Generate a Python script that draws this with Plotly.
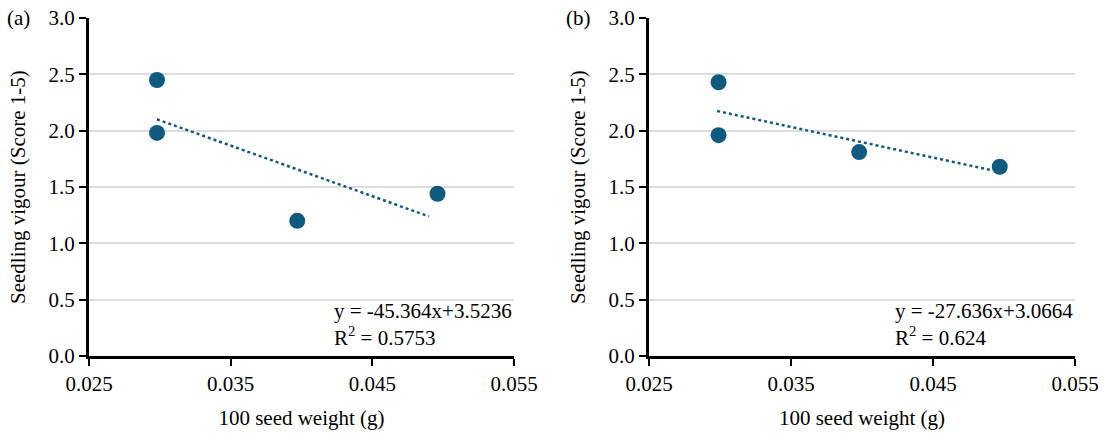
import numpy as np
import plotly.graph_objects as go

# Panel (a)
a_x = [0.0298, 0.0298, 0.0397, 0.0496]
a_y = [2.45, 1.98, 1.20, 1.44]
# Panel (b)
b_x = [0.0299, 0.0299, 0.0398, 0.0497]
b_y = [2.43, 1.96, 1.81, 1.68]

trend_x_range = [0.0298, 0.049]
a_eq = ["y = -45.364x+3.5236", "R<sup>2</sup> = 0.5753"]
b_eq = ["y = -27.636x+3.0664", "R<sup>2</sup> = 0.624"]
panel_labels = ["(a)", "(b)"]
x_ticks = [0.025, 0.035, 0.045, 0.055]
x_tick_text = ["0.025", "0.035", "0.045", "0.055"]
y_ticks = [0.0, 0.5, 1.0, 1.5, 2.0, 2.5, 3.0]
y_tick_text = ["0.0", "0.5", "1.0", "1.5", "2.0", "2.5", "3.0"]
x_title = "100 seed weight (g)"
y_title = "Seedling vigour (Score 1-5)"

COLOR = "#0f5a7e"
FONT = "Times New Roman, Liberation Serif, DejaVu Serif, serif"
FS = 21

fig = go.Figure()

panels = [(a_x, a_y, a_eq, "x", "y"), (b_x, b_y, b_eq, "x2", "y2")]
for px, py, eq, xa, ya in panels:
    slope, icpt = np.polyfit(px, py, 1)
    tx = np.array(trend_x_range)
    fig.add_trace(go.Scatter(x=tx, y=slope * tx + icpt, mode="lines",
                             line=dict(color=COLOR, width=2.5, dash="dot"),
                             xaxis=xa, yaxis=ya, showlegend=False, hoverinfo="skip"))
    fig.add_trace(go.Scatter(x=px, y=py, mode="markers",
                             marker=dict(color=COLOR, size=16),
                             xaxis=xa, yaxis=ya, showlegend=False))

domains = [[89 / 1104, 514 / 1104], [649 / 1104, 1075 / 1104]]
axis_common = dict(showline=True, linecolor="black", linewidth=3, ticks="outside",
                   ticklen=7, tickwidth=1.5, tickcolor="black", automargin=False,
                   tickfont=dict(family=FONT, size=FS, color="black"), zeroline=False)

for i, (xa, ya) in enumerate([("xaxis", "yaxis"), ("xaxis2", "yaxis2")]):
    anchor_y = "y" if i == 0 else "y2"
    anchor_x = "x" if i == 0 else "x2"
    fig.layout[xa] = dict(domain=domains[i], anchor=anchor_y, range=[0.025, 0.055],
                          tickvals=x_ticks, ticktext=x_tick_text, showgrid=False,
                          title=dict(text=x_title, font=dict(family=FONT, size=FS, color="black"), standoff=16),
                          **axis_common)
    fig.layout[ya] = dict(domain=[0, 1], anchor=anchor_x, range=[0, 3.0],
                          tickvals=y_ticks, ticktext=y_tick_text, showgrid=True,
                          gridcolor="#dcdcdc", gridwidth=1.5,
                          **axis_common)

annotations = []
for i, (eq, ref) in enumerate([(a_eq, "x"), (b_eq, "x2")]):
    annotations.append(dict(x=1.0, y=0.012, xref=f"{ref} domain", yref=("y" if i == 0 else "y2") + " domain",
                            text=eq[0] + "<br>" + eq[1], showarrow=False, align="left",
                            xanchor="right", yanchor="bottom",
                            font=dict(family=FONT, size=FS, color="black")))
for i, xpix in enumerate([18, 578]):
    annotations.append(dict(x=xpix / 1104, y=0.5, xref="paper", yref=("y" if i == 0 else "y2") + " domain",
                            text=y_title, textangle=-90, showarrow=False,
                            xanchor="center", yanchor="middle",
                            font=dict(family=FONT, size=FS, color="black")))
annotations.append(dict(x=5 / 1104, y=1.0, xref="paper", yref="paper", text=panel_labels[0],
                        showarrow=False, xanchor="left", yanchor="middle",
                        font=dict(family=FONT, size=FS, color="black")))
annotations.append(dict(x=564 / 1104, y=1.0, xref="paper", yref="paper", text=panel_labels[1],
                        showarrow=False, xanchor="left", yanchor="middle",
                        font=dict(family=FONT, size=FS, color="black")))

fig.update_layout(width=1104, height=437, margin=dict(l=0, r=0, t=18, b=81),
                  paper_bgcolor="white", plot_bgcolor="white",
                  font=dict(family=FONT, size=FS, color="black"),
                  annotations=annotations, showlegend=False)

fig.write_html("out.html", config={"displayModeBar": False},
               post_script="document.body.style.margin='0';")
